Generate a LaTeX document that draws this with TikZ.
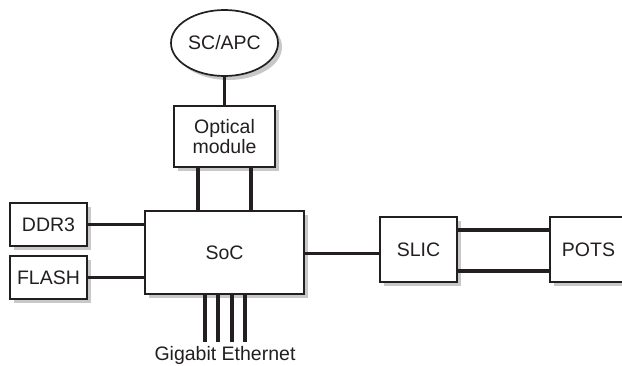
\documentclass[tikz,border=0pt]{standalone}
\usepackage{fontspec}
\setmainfont{Liberation Sans}
\usetikzlibrary{shapes.geometric,shadows}
\definecolor{ink}{RGB}{35,31,32}
\definecolor{shade}{RGB}{200,200,202}
\begin{document}
\begin{tikzpicture}[x=1pt,y=-1pt,
  blk/.style={draw=ink, line width=1.7pt, fill=white, inner sep=0pt, align=center,
    font=\fontsize{19.5}{20}\selectfont, text=ink,
    drop shadow={shadow xshift=4pt, shadow yshift=-4pt, fill=shade, opacity=1}},
  wire/.style={draw=ink, line width=3.3pt}]
\clip (0,0) rectangle (622,366);
\fill[white] (0,0) rectangle (622,366);
% nodes
\node[blk, ellipse, minimum width=107pt, minimum height=66pt] (sc) at (224.5,43) {SC/APC};
\node[blk, minimum width=101pt, minimum height=61pt] (opt) at (224.5,136.5) {Optical\\module};
\node[blk, minimum width=159pt, minimum height=83pt] (soc) at (224.5,252.5) {SoC};
\node[blk, minimum width=77pt, minimum height=43pt] (ddr) at (48.5,224.5) {DDR3};
\node[blk, minimum width=77pt, minimum height=43pt] (flash) at (48.5,277.5) {FLASH};
\node[blk, minimum width=77pt, minimum height=65pt] (slic) at (418.5,249.5) {SLIC};
\node[blk, minimum width=77pt, minimum height=65pt] (pots) at (588.5,249.5) {POTS};
\node[font=\fontsize{19.5}{20}\selectfont, text=ink, inner sep=0pt] (gbe) at (225,355) {Gigabit Ethernet};
% connectors
\draw[wire] (sc.south) -- (opt.north);
\draw[wire] ([xshift=-26.5pt]opt.south) -- ([xshift=-26.5pt]soc.north);
\draw[wire] ([xshift=26.5pt]opt.south) -- ([xshift=26.5pt]soc.north);
\draw[wire] (ddr.east) -- (ddr.east -| soc.west);
\draw[wire] (flash.east) -- (flash.east -| soc.west);
\draw[wire] ([yshift=-1pt]soc.east) -- ([yshift=-1pt]soc.east -| slic.west);
\draw[wire] ([yshift=19.5pt]slic.east) -- ([yshift=19.5pt]slic.east -| pots.west);
\draw[wire] ([yshift=-21.5pt]slic.east) -- ([yshift=-21.5pt]slic.east -| pots.west);
\foreach \dx/\nm in {-19.5/g1,-6.5/g2,7.5/g3,20.5/g4}{
  \coordinate (\nm) at ([xshift=\dx pt]soc.south |- 0,342);
  \draw[wire] ([xshift=\dx pt]soc.south) -- (\nm);
}
\end{tikzpicture}
\end{document}
